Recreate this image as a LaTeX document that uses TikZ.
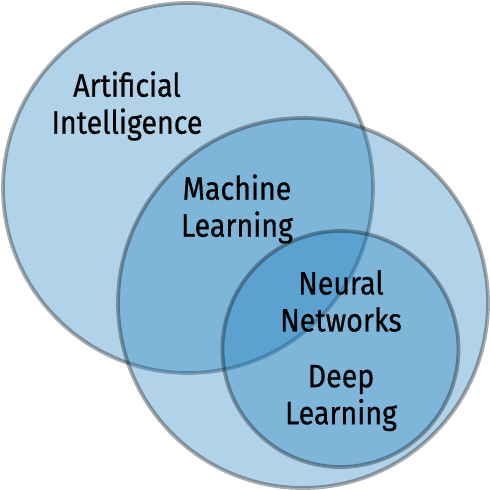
\documentclass[tikz,border=0pt]{standalone}
\usepackage{fontspec}
\setmainfont{Fira Sans}[FakeStretch=0.88,FakeBold=0.6]
\definecolor{vblue}{RGB}{27,125,190}
\begin{document}
\begin{tikzpicture}[x=1pt,y=-1pt,
  venn/.style={circle,fill=vblue,fill opacity=0.34,draw=black,draw opacity=0.33,line width=3.8pt,minimum size=#1,inner sep=0pt},
  lbl/.style={align=center,font=\fontsize{32.5}{37}\selectfont,text=black}]
\useasboundingbox (0,0) rectangle (490,490);
\node[venn=370pt] (ai) at (188,188) {};
\node[venn=370pt] (ml) at (303,303) {};
\node[venn=236pt] (nn) at (340.5,349) {};
\node[lbl] (tai) at (127,106) {Artificial\\Intelligence};
\node[lbl] (tml) at (237,209) {Machine\\Learning};
\node[lbl] (tnn) at (341,301) {Neural\\Networks};
\node[lbl] (tdl) at (341,398) {Deep\\Learning};
\end{tikzpicture}
\end{document}
